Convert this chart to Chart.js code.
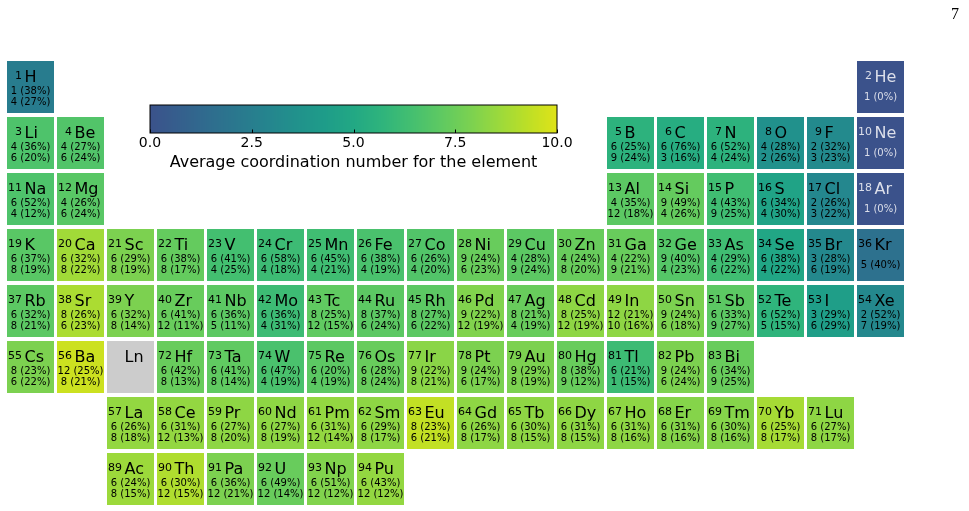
<!DOCTYPE html>
<html>
<head>
<meta charset="utf-8">
<script src="https://cdn.jsdelivr.net/npm/chart.js@4.4.1/dist/chart.umd.min.js"></script>
<style>
  body { margin: 0; background: #fff; overflow: hidden; }
  #wrap { position: relative; width: 969px; height: 511px; }
  #table { position: absolute; left: 0; top: 0; }
  #cbar { position: absolute; left: 120px; top: 95px; }
</style>
</head>
<body>
<div id="wrap">
  <canvas id="table" width="969" height="511"></canvas>
  <canvas id="cbar" width="470" height="85"></canvas>
</div>
<script>
// periodic table cells, in reading order (row by row)
var symbols = ['H', 'He',
    'Li', 'Be', 'B', 'C', 'N', 'O', 'F', 'Ne',
    'Na', 'Mg', 'Al', 'Si', 'P', 'S', 'Cl', 'Ar',
    'K', 'Ca', 'Sc', 'Ti', 'V', 'Cr', 'Mn', 'Fe', 'Co', 'Ni', 'Cu', 'Zn', 'Ga', 'Ge', 'As', 'Se', 'Br', 'Kr',
    'Rb', 'Sr', 'Y', 'Zr', 'Nb', 'Mo', 'Tc', 'Ru', 'Rh', 'Pd', 'Ag', 'Cd', 'In', 'Sn', 'Sb', 'Te', 'I', 'Xe',
    'Cs', 'Ba', 'Ln', 'Hf', 'Ta', 'W', 'Re', 'Os', 'Ir', 'Pt', 'Au', 'Hg', 'Tl', 'Pb', 'Bi',
    'La', 'Ce', 'Pr', 'Nd', 'Pm', 'Sm', 'Eu', 'Gd', 'Tb', 'Dy', 'Ho', 'Er', 'Tm', 'Yb', 'Lu',
    'Ac', 'Th', 'Pa', 'U', 'Np', 'Pu'];

var atomicNumbers = [1, 2,
    3, 4, 5, 6, 7, 8, 9, 10,
    11, 12, 13, 14, 15, 16, 17, 18,
    19, 20, 21, 22, 23, 24, 25, 26, 27, 28, 29, 30, 31, 32, 33, 34, 35, 36,
    37, 38, 39, 40, 41, 42, 43, 44, 45, 46, 47, 48, 49, 50, 51, 52, 53, 54,
    55, 56, null, 72, 73, 74, 75, 76, 77, 78, 79, 80, 81, 82, 83,
    57, 58, 59, 60, 61, 62, 63, 64, 65, 66, 67, 68, 69, 70, 71,
    89, 90, 91, 92, 93, 94];

// table row (period, with La/Ac rows as 7 and 8) and column (group)
var tableRow = [1, 1,
    2, 2, 2, 2, 2, 2, 2, 2,
    3, 3, 3, 3, 3, 3, 3, 3,
    4, 4, 4, 4, 4, 4, 4, 4, 4, 4, 4, 4, 4, 4, 4, 4, 4, 4,
    5, 5, 5, 5, 5, 5, 5, 5, 5, 5, 5, 5, 5, 5, 5, 5, 5, 5,
    6, 6, 6, 6, 6, 6, 6, 6, 6, 6, 6, 6, 6, 6, 6,
    7, 7, 7, 7, 7, 7, 7, 7, 7, 7, 7, 7, 7, 7, 7,
    8, 8, 8, 8, 8, 8];

var tableCol = [1, 18,
    1, 2, 13, 14, 15, 16, 17, 18,
    1, 2, 13, 14, 15, 16, 17, 18,
    1, 2, 3, 4, 5, 6, 7, 8, 9, 10, 11, 12, 13, 14, 15, 16, 17, 18,
    1, 2, 3, 4, 5, 6, 7, 8, 9, 10, 11, 12, 13, 14, 15, 16, 17, 18,
    1, 2, 3, 4, 5, 6, 7, 8, 9, 10, 11, 12, 13, 14, 15,
    3, 4, 5, 6, 7, 8, 9, 10, 11, 12, 13, 14, 15, 16, 17,
    3, 4, 5, 6, 7, 8];

// average coordination number
var avgCoordination = [2.4, 0,
    6.7, 6.8, 5.6, 5.3, 5.6, 3.6, 3.2, 0,
    6.7, 7.0, 7.1, 7.3, 6.3, 4.7, 3.0, 0,
    7.0, 8.7, 7.9, 7.3, 6.4, 6.2, 6.3, 6.6, 6.8, 7.4, 7.1, 7.4, 7.4, 6.9, 6.3, 4.9, 3.1, 1.7,
    7.1, 8.9, 7.9, 7.4, 7.1, 6.2, 7.2, 7.1, 7.1, 8.0, 7.4, 8.3, 8.3, 7.9, 7.1, 5.7, 4.4, 3.1,
    7.9, 9.6, null, 7.4, 7.2, 6.6, 7.1, 7.4, 8.2, 7.9, 7.9, 7.4, 6.2, 7.9, 7.4,
    8.4, 8.4, 8.3, 8.3, 8.4, 8.3, 9.4, 8.3, 8.3, 8.3, 8.3, 8.1, 8.1, 8.8, 8.3,
    8.6, 9.0, 7.9, 7.4, 8.0, 8.4];

// most common and second most common coordination numbers
var firstEnv = ['1 (38%)', '1 (0%)',
    '4 (36%)', '4 (27%)', '6 (25%)', '6 (76%)', '6 (52%)', '4 (28%)', '2 (32%)', '1 (0%)',
    '6 (52%)', '4 (26%)', '4 (35%)', '9 (49%)', '4 (43%)', '6 (34%)', '2 (26%)', '1 (0%)',
    '6 (37%)', '6 (32%)', '6 (29%)', '6 (38%)', '6 (41%)', '6 (58%)', '6 (45%)', '6 (38%)', '6 (26%)', '9 (24%)', '4 (28%)', '4 (24%)', '4 (22%)', '9 (40%)', '4 (29%)', '6 (38%)', '3 (28%)', '5 (40%)',
    '6 (32%)', '8 (26%)', '6 (32%)', '6 (41%)', '6 (36%)', '6 (36%)', '8 (25%)', '8 (37%)', '8 (27%)', '9 (22%)', '8 (21%)', '8 (25%)', '12 (21%)', '9 (24%)', '6 (33%)', '6 (52%)', '3 (29%)', '2 (52%)',
    '8 (23%)', '12 (25%)', '', '6 (42%)', '6 (41%)', '6 (47%)', '6 (20%)', '6 (28%)', '9 (22%)', '9 (24%)', '9 (29%)', '8 (38%)', '6 (21%)', '9 (24%)', '6 (34%)',
    '6 (26%)', '6 (31%)', '6 (27%)', '6 (27%)', '6 (31%)', '6 (29%)', '8 (23%)', '6 (26%)', '6 (30%)', '6 (31%)', '6 (31%)', '6 (31%)', '6 (30%)', '6 (25%)', '6 (27%)',
    '6 (24%)', '6 (30%)', '6 (36%)', '6 (49%)', '6 (51%)', '6 (43%)'];

var secondEnv = ['4 (27%)', '',
    '6 (20%)', '6 (24%)', '9 (24%)', '3 (16%)', '4 (24%)', '2 (26%)', '3 (23%)', '',
    '4 (12%)', '6 (24%)', '12 (18%)', '4 (26%)', '9 (25%)', '4 (30%)', '3 (22%)', '',
    '8 (19%)', '8 (22%)', '8 (19%)', '8 (17%)', '4 (25%)', '4 (18%)', '4 (21%)', '4 (19%)', '4 (20%)', '6 (23%)', '9 (24%)', '8 (20%)', '9 (21%)', '4 (23%)', '6 (22%)', '4 (22%)', '6 (19%)', '',
    '8 (21%)', '6 (23%)', '8 (14%)', '12 (11%)', '5 (11%)', '4 (31%)', '12 (15%)', '6 (24%)', '6 (22%)', '12 (19%)', '4 (19%)', '12 (19%)', '10 (16%)', '6 (18%)', '9 (27%)', '5 (15%)', '6 (29%)', '7 (19%)',
    '6 (22%)', '8 (21%)', '', '8 (13%)', '8 (14%)', '4 (19%)', '4 (19%)', '8 (24%)', '8 (21%)', '6 (17%)', '8 (19%)', '9 (12%)', '1 (15%)', '6 (24%)', '9 (25%)',
    '8 (18%)', '12 (13%)', '8 (20%)', '8 (19%)', '12 (14%)', '8 (17%)', '6 (21%)', '8 (17%)', '8 (15%)', '8 (15%)', '8 (16%)', '8 (16%)', '8 (16%)', '8 (17%)', '8 (17%)',
    '8 (15%)', '12 (15%)', '12 (21%)', '12 (14%)', '12 (12%)', '12 (12%)'];

var columnLabels = ['1', '2', '3', '4', '5', '6', '7', '8', '9', '10', '11', '12', '13', '14', '15', '16', '17', '18'];
var cbarTicks = [0, 2.5, 5, 7.5, 10];

// viridis, sampled every 0.05
var viridisStops = ['#440154', '#471365', '#482475', '#463480', '#414487', '#3b528b', '#355f8d',
    '#2f6c8e', '#2a788e', '#25848e', '#21918c', '#1e9c89', '#22a884', '#2fb47c', '#44bf70',
    '#5ec962', '#7ad151', '#9bd93c', '#bddf26', '#dfe318', '#fde725'];

function hexRgb(h) {
    return [parseInt(h.substr(1, 2), 16), parseInt(h.substr(3, 2), 16), parseInt(h.substr(5, 2), 16)];
}

function viridis(t) {
    t = Math.max(0, Math.min(1, t));
    var p = t * (viridisStops.length - 1);
    var i = Math.min(Math.floor(p), viridisStops.length - 2);
    var f = p - i;
    var a = hexRgb(viridisStops[i]), b = hexRgb(viridisStops[i + 1]);
    var c = a.map(function (v, k) { return Math.round(v + (b[k] - v) * f); });
    return 'rgb(' + c.join(',') + ')';
}

// the figure uses the 0.25..0.95 part of viridis for 0..10
function cnColor(v) {
    if (v === null) return '#cccccc';
    return viridis(0.25 + 0.07 * v);
}

var font = '"DejaVu Sans", sans-serif';

var cellText = {
    id: 'cellText',
    afterDatasetsDraw: function (chart) {
        var ctx = chart.ctx;
        var meta = chart.getDatasetMeta(0);
        ctx.save();
        meta.data.forEach(function (el, i) {
            var left = el.x - el.width / 2;
            var top = Math.min(el.y, el.base);
            ctx.fillStyle = (avgCoordination[i] !== null && avgCoordination[i] < 1) ? '#dcdfea' : '#000';
            ctx.textBaseline = 'alphabetic';
            if (atomicNumbers[i] !== null) {
                ctx.font = '11px ' + font;
                ctx.textAlign = 'right';
                ctx.fillText(String(atomicNumbers[i]), left + 15, top + 18);
            }
            ctx.font = '16px ' + font;
            ctx.textAlign = 'left';
            ctx.fillText(symbols[i], left + 17.5, top + 21);
            ctx.font = '10px ' + font;
            ctx.textAlign = 'center';
            if (secondEnv[i] === '') {
                ctx.fillText(firstEnv[i], el.x, top + 39);
            } else {
                ctx.fillText(firstEnv[i], el.x, top + 33);
                ctx.fillText(secondEnv[i], el.x, top + 44);
            }
        });
        // page number
        ctx.font = '16px "Liberation Serif", serif';
        ctx.textAlign = 'right';
        ctx.fillStyle = '#000';
        ctx.fillText('7', 959, 19);
        ctx.restore();
    }
};

new Chart(document.getElementById('table'), {
    type: 'bar',
    data: {
        labels: columnLabels,
        datasets: [{
            data: symbols.map(function (s, i) {
                return { x: String(tableCol[i]), y: [tableRow[i] - 0.464, tableRow[i] + 0.464] };
            }),
            backgroundColor: avgCoordination.map(cnColor),
            borderWidth: 0,
            barPercentage: 0.94,
            categoryPercentage: 1.0
        }]
    },
    options: {
        responsive: false,
        animation: false,
        layout: { padding: { left: 5.5, right: 63.5, top: 59, bottom: 4 } },
        scales: {
            x: { type: 'category', display: false },
            y: { type: 'linear', display: false, reverse: true, min: 0.5, max: 8.5 }
        },
        plugins: { legend: { display: false }, tooltip: { enabled: false } }
    },
    plugins: [cellText]
});

// colour bar
var cbarFill = {
    id: 'cbarFill',
    beforeDatasetsDraw: function (chart) {
        var ctx = chart.ctx, a = chart.chartArea, xs = chart.scales.x;
        ctx.save();
        for (var x = Math.floor(a.left); x < a.right; x++) {
            ctx.fillStyle = cnColor(xs.getValueForPixel(x + 0.5));
            ctx.fillRect(x, a.top, 1, a.bottom - a.top);
        }
        ctx.strokeStyle = '#000';
        ctx.lineWidth = 1;
        ctx.strokeRect(a.left, a.top, a.right - a.left, a.bottom - a.top);
        ctx.beginPath();
        cbarTicks.forEach(function (t) {
            var px = Math.round(xs.getPixelForValue(t)) + 0.5;
            ctx.moveTo(px, a.bottom);
            ctx.lineTo(px, a.bottom - 3.5);
        });
        ctx.stroke();
        ctx.restore();
    }
};

new Chart(document.getElementById('cbar'), {
    type: 'scatter',
    data: { datasets: [{ data: [] }] },
    options: {
        responsive: false,
        animation: false,
        layout: { padding: { left: 30, right: 33, top: 10, bottom: 0 } },
        scales: {
            x: {
                type: 'linear', min: 0, max: 10,
                afterBuildTicks: function (s) { s.ticks = cbarTicks.map(function (v) { return { value: v }; }); },
                afterFit: function (s) { s.height = 47; },
                ticks: {
                    color: '#000', padding: 1.5, maxRotation: 0,
                    font: { family: font, size: 14 },
                    callback: function (v) { return v.toFixed(1); }
                },
                grid: { display: false, drawTicks: false },
                border: { display: false },
                title: {
                    display: true, text: 'Average coordination number for the element',
                    color: '#000', font: { family: font, size: 16 }, padding: { top: 4, bottom: 8 }
                }
            },
            y: { display: false, min: 0, max: 1 }
        },
        plugins: { legend: { display: false }, tooltip: { enabled: false } }
    },
    plugins: [cbarFill]
});
</script>
</body>
</html>
